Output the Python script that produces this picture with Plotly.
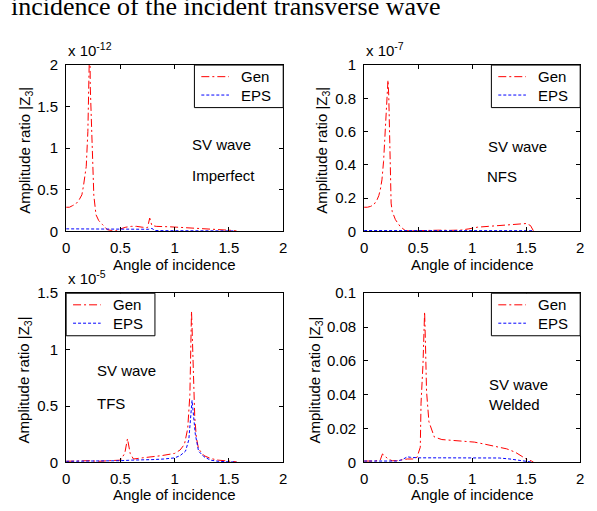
import plotly.graph_objects as go

# ---------------- data ----------------
x_ticks = [0, 0.5, 1, 1.5, 2]
x_tick_labels = ["0", "0.5", "1", "1.5", "2"]

# Panel 1: Imperfect (x 1e-12)
imp_gen_x = [0, 0.03, 0.06, 0.09, 0.12, 0.145, 0.16, 0.185, 0.2, 0.21, 0.218, 0.222, 0.232, 0.24, 0.245,
             0.255, 0.275, 0.3, 0.336, 0.38, 0.42, 0.46, 0.5, 0.55, 0.6, 0.65, 0.7, 0.75, 0.77, 0.79,
             0.83, 0.88, 0.95, 1.02, 1.1, 1.18, 1.25, 1.35, 1.45, 1.52, 1.57]
imp_gen_y = [0.29, 0.29, 0.31, 0.33, 0.38, 0.44, 0.55, 0.78, 1.2, 1.63, 2.4, 1.75, 1.4, 1.1, 0.89,
             0.43, 0.2, 0.13, 0.08, 0.02, 0.01, 0.005, 0.03, 0.05, 0.06, 0.06, 0.05, 0.045, 0.16, 0.07,
             0.06, 0.06, 0.055, 0.05, 0.045, 0.035, 0.03, 0.025, 0.02, 0.012, 0.005]
imp_eps_x = [0, 0.2, 0.4, 0.6, 0.76, 0.79, 0.82, 0.9, 1.1, 1.3, 1.5, 1.55]
imp_eps_y = [0.03, 0.03, 0.028, 0.026, 0.025, 0.035, 0.01, 0.008, 0.008, 0.008, 0.006, 0.005]
imp_y_ticks = [0, 0.5, 1, 1.5, 2]
imp_y_labels = ["0", "0.5", "1", "1.5", "2"]

# Panel 2: NFS (x 1e-7)
nfs_gen_x = [0, 0.03, 0.06, 0.09, 0.12, 0.136, 0.15, 0.165, 0.18, 0.19, 0.2, 0.21, 0.221, 0.228, 0.233,
             0.24, 0.245, 0.25, 0.26, 0.29, 0.333, 0.38, 0.43, 0.5, 0.6, 0.7, 0.8, 0.9, 0.97, 1.05,
             1.15, 1.25, 1.35, 1.45, 1.5, 1.54, 1.57]
nfs_gen_y = [0.145, 0.145, 0.15, 0.16, 0.19, 0.215, 0.25, 0.31, 0.42, 0.54, 0.68, 0.8, 0.91, 0.82, 0.66,
             0.45, 0.31, 0.17, 0.12, 0.07, 0.03, 0.005, 0.003, 0.005, 0.008, 0.007, 0.006, 0.008, 0.015, 0.025,
             0.03, 0.035, 0.04, 0.044, 0.047, 0.035, 0.0]
nfs_eps_x = [0, 0.3, 0.6, 0.9, 1.2, 1.5, 1.57]
nfs_eps_y = [0.005, 0.005, 0.005, 0.005, 0.005, 0.005, 0.004]
nfs_y_ticks = [0, 0.2, 0.4, 0.6, 0.8, 1]
nfs_y_labels = ["0", "0.2", "0.4", "0.6", "0.8", "1"]

# Panel 3: TFS (x 1e-5)
tfs_gen_x = [0, 0.1, 0.2, 0.3, 0.4, 0.5, 0.54, 0.565, 0.59, 0.62, 0.7, 0.8, 0.88, 1.0, 1.05, 1.09,
             1.12, 1.14, 1.15, 1.155, 1.16, 1.17, 1.185, 1.2, 1.22, 1.27, 1.33, 1.4, 1.5, 1.57]
tfs_gen_y = [0.01, 0.012, 0.015, 0.01, 0.012, 0.02, 0.08, 0.21, 0.08, 0.03, 0.04, 0.05, 0.06, 0.08, 0.11, 0.16,
             0.3, 0.6, 1.0, 1.34, 1.2, 0.8, 0.4, 0.22, 0.12, 0.06, 0.035, 0.02, 0.01, 0.005]
tfs_eps_x = [0, 0.2, 0.4, 0.5, 0.6, 0.7, 0.8, 0.9, 1.0, 1.05, 1.1, 1.13, 1.15, 1.16, 1.17, 1.19, 1.22,
             1.27, 1.33, 1.4, 1.5, 1.57]
tfs_eps_y = [0.01, 0.01, 0.01, 0.015, 0.02, 0.02, 0.025, 0.03, 0.04, 0.06, 0.1, 0.2, 0.4, 0.55, 0.45, 0.25,
             0.1, 0.05, 0.02, 0.01, 0.005, 0.003]
tfs_y_ticks = [0, 0.5, 1, 1.5]
tfs_y_labels = ["0", "0.5", "1", "1.5"]

# Panel 4: Welded
wel_gen_x = [0, 0.1, 0.15, 0.17, 0.19, 0.22, 0.26, 0.3, 0.35, 0.4, 0.45, 0.49, 0.52, 0.527, 0.545, 0.56,
             0.568, 0.578, 0.6, 0.65, 0.72, 0.8, 0.9, 1.02, 1.1, 1.2, 1.32, 1.4, 1.45, 1.5, 1.55, 1.57]
wel_gen_y = [0.0008, 0.0008, 0.0015, 0.005, 0.004, 0.002, 0.001, 0.001, 0.0015, 0.002, 0.002, 0.003, 0.009,
             0.035, 0.058, 0.089, 0.07, 0.042, 0.024, 0.015, 0.0135, 0.013, 0.0125, 0.012, 0.011, 0.0097,
             0.008, 0.006, 0.004, 0.002, 0.0008, 0.0]
wel_eps_x = [0, 0.2, 0.3, 0.35, 0.4, 0.43, 0.46, 0.5, 0.7, 0.9, 1.1, 1.25, 1.35, 1.45, 1.5, 1.55]
wel_eps_y = [0.0008, 0.0008, 0.0008, 0.0015, 0.0033, 0.003, 0.0027, 0.0027, 0.0027, 0.0027, 0.0027, 0.0026,
             0.002, 0.001, 0.0005, 0.0002]
wel_y_ticks = [0, 0.02, 0.04, 0.06, 0.08, 0.1]
wel_y_labels = ["0", "0.02", "0.04", "0.06", "0.08", "0.1"]

series_names = ["Gen", "EPS"]
panel_labels = [("SV wave", "Imperfect"), ("SV wave", "NFS"), ("SV wave", "TFS"), ("SV wave", "Welded")]
exponents = ["-12", "-7", "-5", None]
x_title = "Angle of incidence"
y_title = "Amplitude ratio |Z<sub>3</sub>|"
top_text = "incidence of the incident transverse wave"

# ---------------- layout helpers ----------------
W, H = 597, 511
def fx(p):
    return p / W
def fy(p):
    return 1 - p / H

FONT = "Arial, Liberation Sans, sans-serif"
RED = "#ff0000"
BLUE = "#0000ff"
GEN_DASH = "8px,3px,2px,3px"
EPS_DASH = "3px,2px"

panels = [
    dict(x0=63, x1=283, y0=58, y1=230, gx=imp_gen_x, gy=imp_gen_y, ex=imp_eps_x, ey=imp_eps_y,
         yr=[0, 2], yt=imp_y_ticks, yl=imp_y_labels, leg=(193, 58),
         t1=(189, 140), t2=(189, 172), ytx=21, xty=264),
    dict(x0=365, x1=584, y0=58, y1=230, gx=nfs_gen_x, gy=nfs_gen_y, ex=nfs_eps_x, ey=nfs_eps_y,
         yr=[0, 1], yt=nfs_y_ticks, yl=nfs_y_labels, leg=(494, 58),
         t1=(489, 142), t2=(488, 173), ytx=322, xty=264),
    dict(x0=63, x1=283, y0=294, y1=469, gx=tfs_gen_x, gy=tfs_gen_y, ex=tfs_eps_x, ey=tfs_eps_y,
         yr=[0, 1.5], yt=tfs_y_ticks, yl=tfs_y_labels, leg=(63, 294),
         t1=(92, 374), t2=(92, 408), ytx=21, xty=502),
    dict(x0=365, x1=584, y0=294, y1=469, gx=wel_gen_x, gy=wel_gen_y, ex=wel_eps_x, ey=wel_eps_y,
         yr=[0, 0.1], yt=wel_y_ticks, yl=wel_y_labels, leg=(494, 294),
         t1=(490, 388), t2=(490, 409), ytx=316, xty=502),
]

fig = go.Figure()
annotations = []
shapes = []
layout_extra = {}

for i, p in enumerate(panels):
    n = i + 1
    sfx = "" if n == 1 else str(n)
    fig.add_trace(go.Scatter(x=p["gx"], y=p["gy"], mode="lines", name=series_names[0],
                             line=dict(color=RED, width=1, dash=GEN_DASH),
                             xaxis="x" + sfx, yaxis="y" + sfx, showlegend=False))
    fig.add_trace(go.Scatter(x=p["ex"], y=p["ey"], mode="lines", name=series_names[1],
                             line=dict(color=BLUE, width=1, dash=EPS_DASH),
                             xaxis="x" + sfx, yaxis="y" + sfx, showlegend=False))
    axcommon = dict(showline=True, linecolor="black", linewidth=1, mirror="ticks", ticks="inside",
                    ticklen=4, tickcolor="black", showgrid=False, zeroline=False,
                    tickfont=dict(family=FONT, size=15, color="black"))
    layout_extra["xaxis" + sfx] = dict(domain=[fx(p["x0"]), fx(p["x1"])], range=[0, 2],
                                       tickvals=x_ticks, ticktext=x_tick_labels,
                                       anchor="y" + sfx, ticklabelstandoff=3, **axcommon)
    layout_extra["yaxis" + sfx] = dict(domain=[fy(p["y1"]), fy(p["y0"])], range=p["yr"],
                                       tickvals=p["yt"], ticktext=p["yl"],
                                       anchor="x" + sfx, ticklabelstandoff=4, **axcommon)
    # legend box (boxed key)
    lx, ly = p["leg"]
    shapes.append(dict(type="rect", xref="paper", yref="paper", x0=fx(lx), x1=fx(lx + 90),
                       y0=fy(ly + 44), y1=fy(ly), line=dict(color="black", width=1),
                       fillcolor="white", layer="above"))
    for k, (nm, col, dsh) in enumerate(zip(series_names, [RED, BLUE], [GEN_DASH, EPS_DASH])):
        ry = ly + 12 + 19 * k
        shapes.append(dict(type="line", xref="paper", yref="paper", x0=fx(lx + 7), x1=fx(lx + 35),
                           y0=fy(ry), y1=fy(ry), line=dict(color=col, width=1, dash=dsh),
                           layer="above"))
        annotations.append(dict(x=fx(lx + 45), y=fy(ry), xref="paper", yref="paper", text=nm,
                                showarrow=False, xanchor="left", yanchor="middle",
                                font=dict(family=FONT, size=15, color="black")))
    # panel texts
    for (tx, ty), txt in zip([p["t1"], p["t2"]], panel_labels[i]):
        annotations.append(dict(x=fx(tx), y=fy(ty), xref="paper", yref="paper", text=txt,
                                showarrow=False, xanchor="left", yanchor="middle",
                                font=dict(family=FONT, size=15, color="black")))
    # axis titles
    annotations.append(dict(x=fx((p["x0"] + p["x1"]) / 2), y=fy(p["xty"]), xref="paper", yref="paper",
                            text=x_title, showarrow=False, xanchor="center", yanchor="middle",
                            font=dict(family=FONT, size=15, color="black")))
    annotations.append(dict(x=fx(p["ytx"]), y=fy((p["y0"] + p["y1"]) / 2 + 2), xref="paper", yref="paper",
                            text=y_title, showarrow=False, textangle=-90, xanchor="center",
                            yanchor="middle", font=dict(family=FONT, size=15, color="black")))
    if exponents[i]:
        annotations.append(dict(x=fx(p["x0"]), y=fy(p["y0"] - 16), xref="paper", yref="paper",
                                text=f"x 10<sup>{exponents[i]}</sup>", showarrow=False,
                                xanchor="left", yanchor="middle",
                                font=dict(family=FONT, size=15, color="black")))

annotations.append(dict(x=fx(5), y=fy(-3), xref="paper", yref="paper", text=top_text,
                        showarrow=False, xanchor="left", yanchor="middle",
                        font=dict(family="Liberation Serif, Times New Roman, serif", size=26,
                                  color="black")))

fig.update_layout(width=W, height=H, margin=dict(l=0, r=0, t=0, b=0),
                  paper_bgcolor="white", plot_bgcolor="white", showlegend=False,
                  annotations=annotations, shapes=shapes, **layout_extra)

fig.write_html("out.html")
